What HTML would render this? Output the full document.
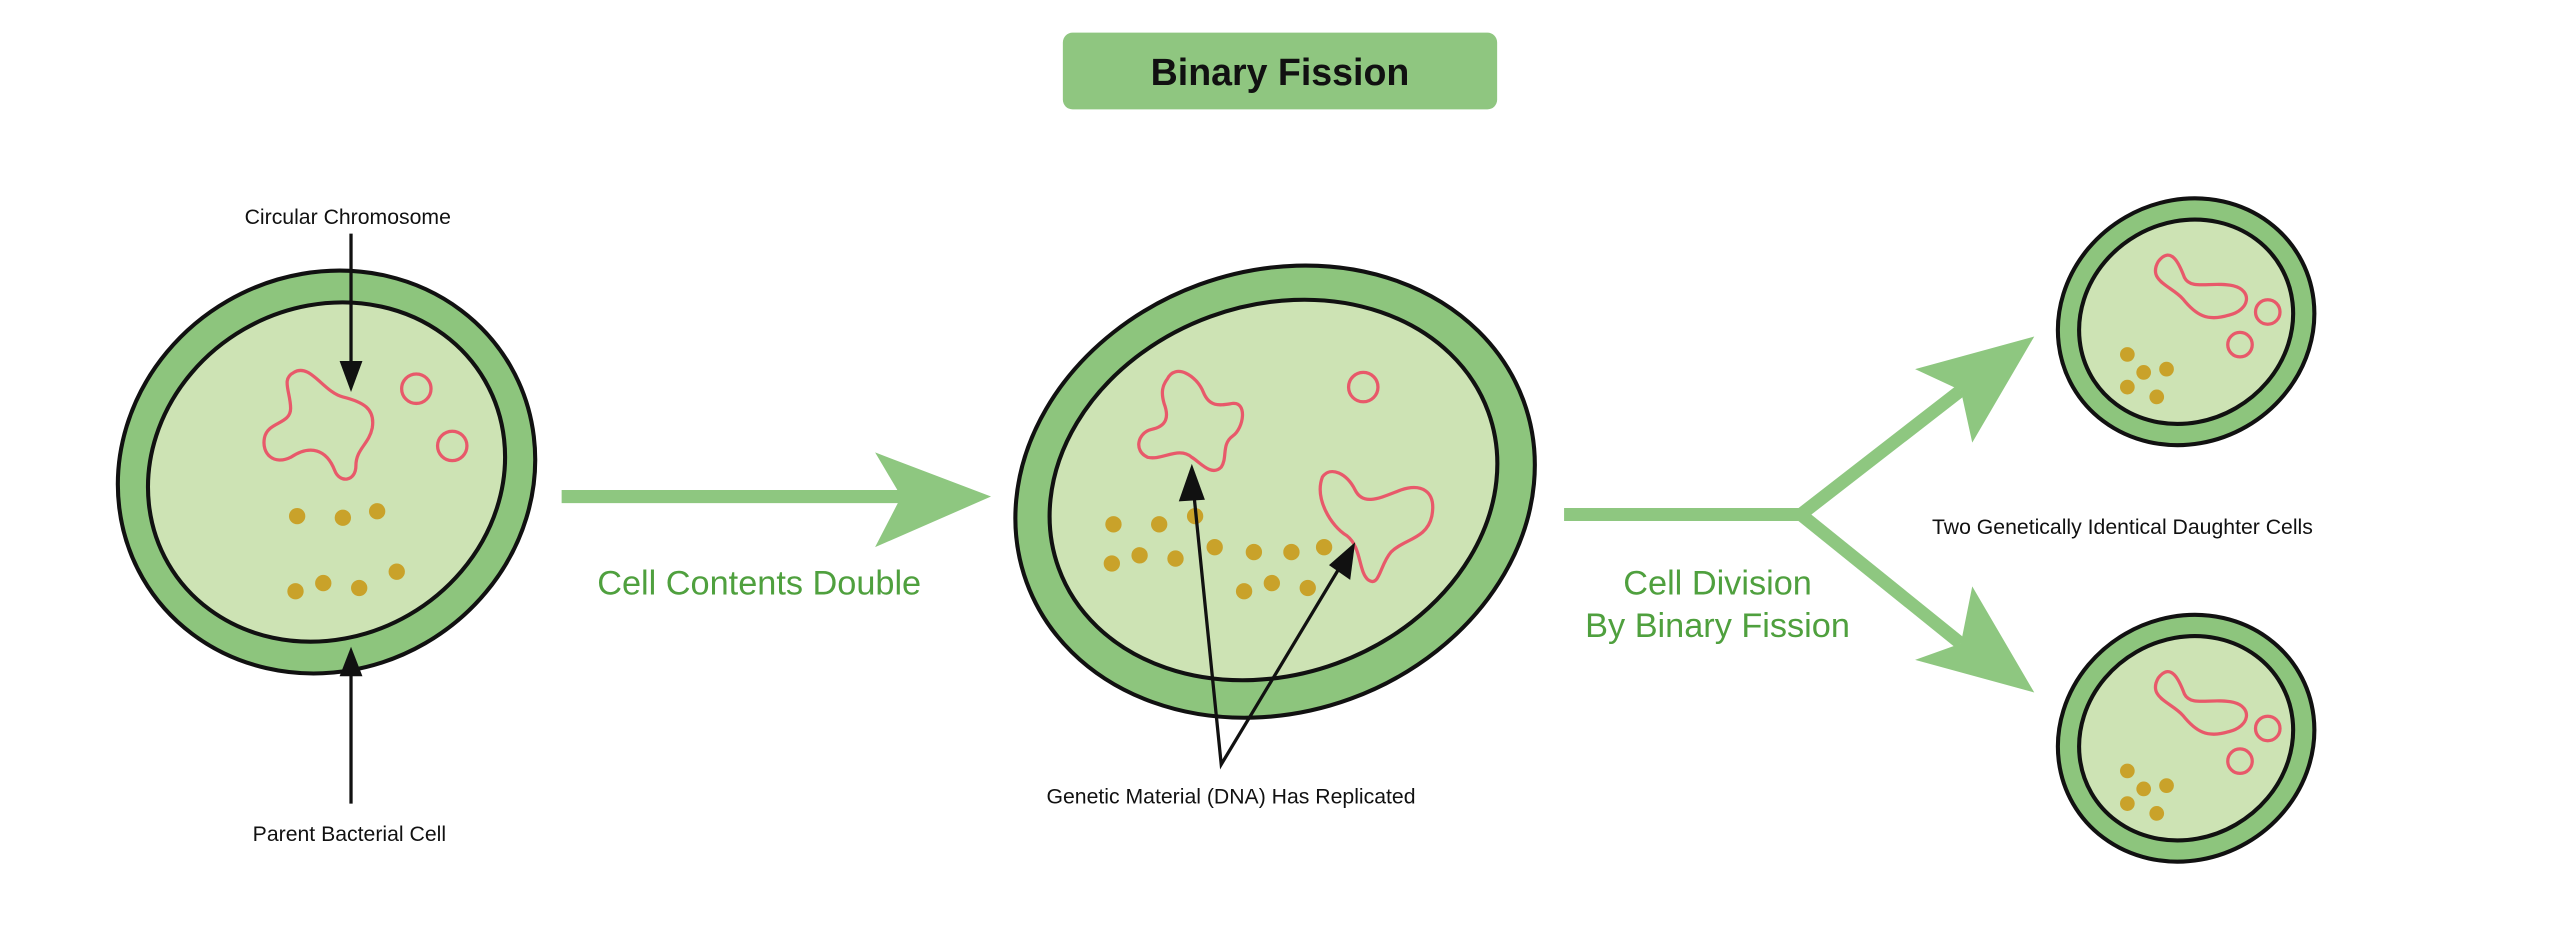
<!DOCTYPE html>
<html><head><meta charset="utf-8"><style>
html,body{margin:0;padding:0;background:#fff;}
svg{display:block;}
text{font-family:"Liberation Sans",sans-serif;}
</style></head><body>
<svg width="2560" height="931" viewBox="0 0 1568 570" preserveAspectRatio="none" xmlns="http://www.w3.org/2000/svg">
<rect x="651" y="20" width="266" height="47" rx="6" fill="#8fc680"/>
<text x="784" y="52" text-anchor="middle" font-size="23" font-weight="bold" fill="#111">Binary Fission</text>

<!-- Cell 1 -->
<g transform="translate(200,289) rotate(-30)">
<ellipse rx="130" ry="121" fill="#8dc57d" stroke="#111" stroke-width="2.5"/>
<ellipse rx="112" ry="101" fill="#cde3b4" stroke="#111" stroke-width="2.5"/>
</g>
<path d="M180,228 C190,222 198,240 210,243 C222,246 230,250 228,262 C226,272 218,275 218,285 C218,295 208,296 205,288 C200,275 190,272 178,280 C168,285 160,278 162,268 C164,258 178,260 178,250 C178,240 172,232 180,228 Z" fill="none" stroke="#e8596a" stroke-width="2"/>
<circle cx="255" cy="238" r="9" fill="none" stroke="#e8596a" stroke-width="2"/>
<circle cx="277" cy="273" r="9" fill="none" stroke="#e8596a" stroke-width="2"/>
<g fill="#c9a22a">
<circle cx="182" cy="316" r="5"/><circle cx="210" cy="317" r="5"/><circle cx="231" cy="313" r="5"/><circle cx="243" cy="350" r="5"/><circle cx="181" cy="362" r="5"/><circle cx="198" cy="357" r="5"/><circle cx="220" cy="360" r="5"/>
</g>
<text x="213" y="137" text-anchor="middle" font-size="13" fill="#111">Circular Chromosome</text>
<line x1="215" y1="143" x2="215" y2="225" stroke="#111" stroke-width="2"/>
<polygon points="208,221 222,221 215,240" fill="#111"/>
<text x="214" y="515" text-anchor="middle" font-size="13" fill="#111">Parent Bacterial Cell</text>
<line x1="215" y1="492" x2="215" y2="410" stroke="#111" stroke-width="2"/>
<polygon points="208,414 222,414 215,396" fill="#111"/>

<!-- Arrow 1 -->
<line x1="344" y1="304" x2="560" y2="304" stroke="#8ec780" stroke-width="8"/>
<polygon points="536,277 607,304 536,335 552,304" fill="#8ec780"/>
<text x="465" y="364" text-anchor="middle" font-size="21" fill="#4fa03e">Cell Contents Double</text>

<!-- Cell 2 -->
<g transform="translate(781,301) rotate(-20)">
<ellipse rx="162" ry="135" fill="#8dc57d" stroke="#111" stroke-width="2.5"/>
</g>
<g transform="translate(780,300) rotate(-20)">
<ellipse rx="140" ry="113" fill="#cde3b4" stroke="#111" stroke-width="2.5"/>
</g>
<path d="M715,232 C720,222 733,230 737,240 C741,250 748,248 755,247 C764,246 762,262 755,267 C748,272 752,280 748,286 C742,292 735,283 730,280 C722,273 712,282 703,280 C694,276 697,265 705,263 C715,261 716,255 713,247 C711,240 712,236 715,232 Z" fill="none" stroke="#e8596a" stroke-width="2"/>
<path d="M810,292 C815,285 825,290 830,300 C835,310 845,305 858,300 C870,296 880,300 877,316 C874,330 860,330 852,338 C845,346 845,360 838,355 C832,350 834,335 825,328 C815,322 805,305 810,292 Z" fill="none" stroke="#e8596a" stroke-width="2"/>
<circle cx="835" cy="237" r="9" fill="none" stroke="#e8596a" stroke-width="2"/>
<g fill="#c9a22a">
<circle cx="682" cy="321" r="5"/><circle cx="710" cy="321" r="5"/><circle cx="732" cy="316" r="5"/><circle cx="744" cy="335" r="5"/><circle cx="768" cy="338" r="5"/><circle cx="791" cy="338" r="5"/><circle cx="811" cy="335" r="5"/><circle cx="681" cy="345" r="5"/><circle cx="698" cy="340" r="5"/><circle cx="720" cy="342" r="5"/><circle cx="762" cy="362" r="5"/><circle cx="779" cy="357" r="5"/><circle cx="801" cy="360" r="5"/>
</g>
<polyline points="731,300 748,468 822,345" fill="none" stroke="#111" stroke-width="2"/>
<polygon points="730,284 738,306 722,307" fill="#111"/>
<polygon points="830,332 827,355 814,346" fill="#111"/>
<text x="754" y="492" text-anchor="middle" font-size="13" fill="#111">Genetic Material (DNA) Has Replicated</text>

<!-- Arrow 2 -->
<polyline points="958,315 1103,315 1201,239" fill="none" stroke="#8ec780" stroke-width="8"/>
<line x1="1103" y1="315" x2="1201" y2="394" stroke="#8ec780" stroke-width="8"/>
<polygon points="1246,206 1173,226 1201,239 1208,271" fill="#8ec780"/>
<polygon points="1246,424 1173,404 1201,394 1208,359" fill="#8ec780"/>
<text x="1052" y="364" text-anchor="middle" font-size="21" fill="#4fa03e">Cell Division</text>
<text x="1052" y="390" text-anchor="middle" font-size="21" fill="#4fa03e">By Binary Fission</text>
<text x="1300" y="327" text-anchor="middle" font-size="13" fill="#111">Two Genetically Identical Daughter Cells</text>

<!-- Daughter cells -->
<g id="d">
<g transform="translate(1339,197) rotate(-30)">
<ellipse rx="80" ry="74" fill="#8dc57d" stroke="#111" stroke-width="2.5"/>
<ellipse rx="67" ry="61" fill="#cde3b4" stroke="#111" stroke-width="2.5"/>
</g>
<path d="M1322,160 C1330,150 1335,162 1338,170 C1342,178 1355,172 1368,175 C1380,178 1378,190 1365,193 C1352,197 1345,193 1337,183 C1330,175 1315,172 1322,160 Z" fill="none" stroke="#e8596a" stroke-width="2"/>
<circle cx="1389" cy="191" r="7.5" fill="none" stroke="#e8596a" stroke-width="2"/>
<circle cx="1372" cy="211" r="7.5" fill="none" stroke="#e8596a" stroke-width="2"/>
<g fill="#c9a22a"><circle cx="1303" cy="217" r="4.5"/><circle cx="1313" cy="228" r="4.5"/><circle cx="1327" cy="226" r="4.5"/><circle cx="1303" cy="237" r="4.5"/><circle cx="1321" cy="243" r="4.5"/></g>
</g>
<use href="#d" transform="translate(0,255)"/>
</svg>
</body></html>
